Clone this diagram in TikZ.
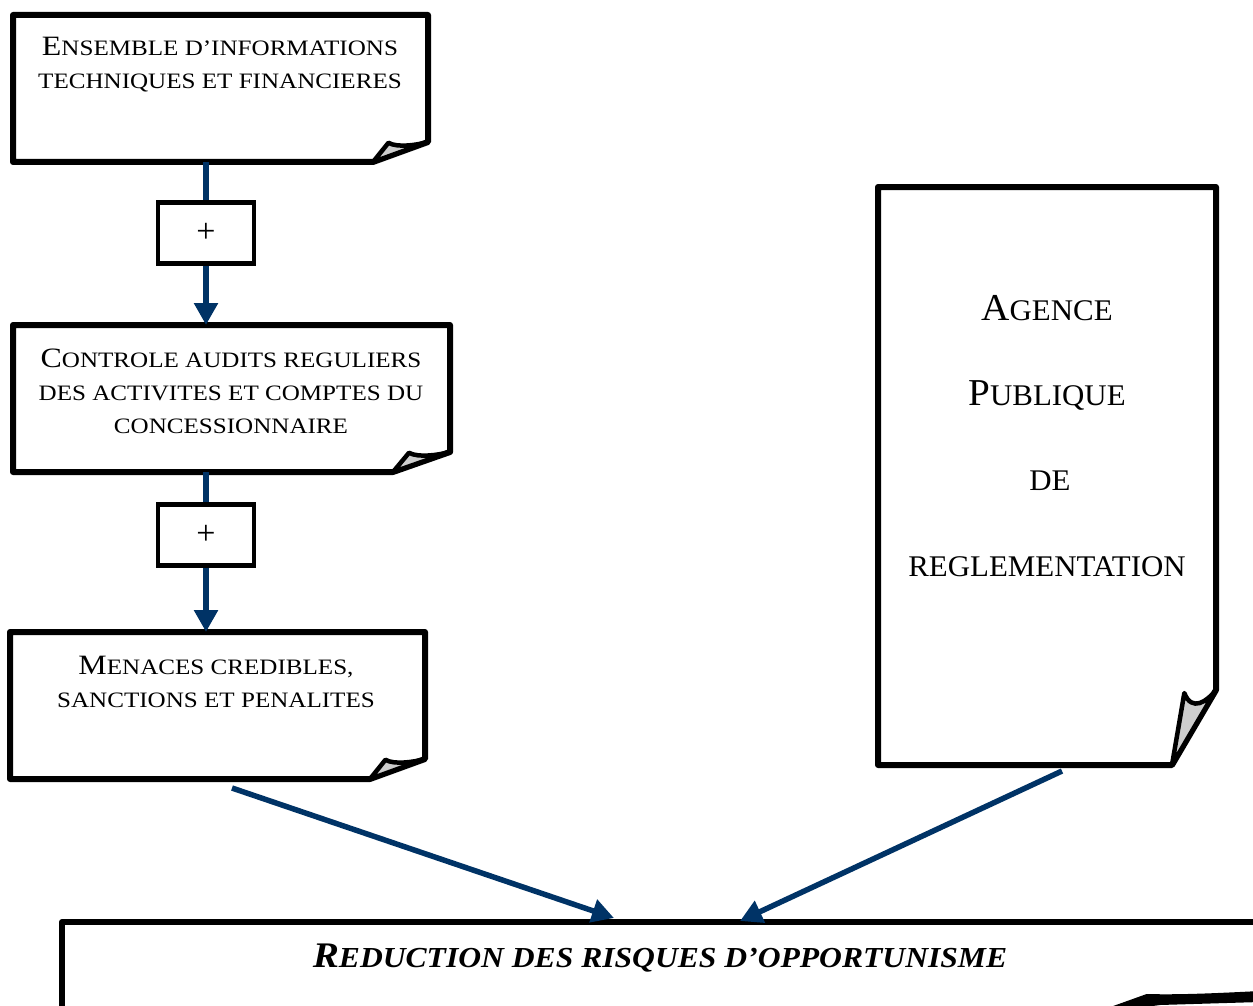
\documentclass[tikz,border=0pt]{standalone}
\usepackage{fontspec}
\setmainfont{Liberation Serif}
\newfontfamily\boxfont[FakeStretch=1.14]{Liberation Serif}
\newfontfamily\agfont[FakeStretch=1.03]{Liberation Serif}
\newfontfamily\redfont[FakeStretch=1.09]{Liberation Serif}
\usetikzlibrary{arrows.meta,calc}
\definecolor{navy}{RGB}{0,51,102}
\definecolor{curlgray}{RGB}{205,205,205}
\newcommand\scA[2]{{\fontsize{28}{30}\selectfont #1}{\fontsize{22}{24}\selectfont #2}}
\newcommand\scB[2]{{\fontsize{38}{44}\selectfont #1}{\fontsize{30}{34}\selectfont #2}}
\tikzset{
  docline/.style={line width=6pt, line join=round, draw=black, fill=white},
  curlline/.style={line width=4.5pt, line join=round, draw=black, fill=curlgray},
  frame/.style={draw=none, inner sep=0pt, outer sep=0pt},
  plusbox/.style={draw=black, line width=4.5pt, fill=white, minimum width=96pt, minimum height=61pt, inner sep=0pt, font=\fontsize{34}{36}\selectfont},
  txt/.style={align=center, inner sep=0pt, font=\boxfont\fontsize{22}{33}\selectfont},
  agtxt/.style={inner sep=0pt, font=\agfont},
  flow/.style={draw=navy, line width=5.5pt},
  flowarrow/.style={draw=navy, line width=5.5pt, -{Triangle[width=23pt,length=22pt]}},
}
% #1 node name, #2 fold width, #3 fold height
\newcommand\foldbox[3]{%
  \draw[docline] (#1.north west) -- (#1.north east) -- ($(#1.south east)+(0,-#3)$)
     -- ($(#1.south east)+(-#2,0)$) -- (#1.south west) -- cycle;
  \draw[curlline] ($(#1.south east)+(-#2,0)$) -- ($(#1.south east)+(-0.72*#2,-0.96*#3)$)
     .. controls ($(#1.south east)+(-0.55*#2,-0.70*#3)$) and ($(#1.south east)+(-0.2*#2,-0.85*#3)$)
     .. ($(#1.south east)+(0,-#3)$) -- cycle;
}
\begin{document}
\begin{tikzpicture}[x=1pt,y=-1pt]
\useasboundingbox (0,0) rectangle (1253,1006);
\clip (0,0) rectangle (1253,1006);

% frames of the boxes
\node[frame, minimum width=415pt, minimum height=147pt] (b1) at (220.5,88.5) {};
\node[frame, minimum width=437pt, minimum height=147pt] (b2) at (231.5,398.5) {};
\node[frame, minimum width=415pt, minimum height=147pt] (b3) at (217.5,705.5) {};
\node[frame, minimum width=338pt, minimum height=578pt] (b4) at (1047,476) {};
\node[frame, minimum width=1260pt, minimum height=110pt] (b5) at (692,977) {};

\foldbox{b1}{55}{20}
\foldbox{b2}{57}{20}
\foldbox{b3}{55}{20}
\foldbox{b4}{44}{75}

% bottom box (extends past the page)
\draw[docline] (b5.south west) -- (b5.north west) -- (b5.north east) -- (b5.south east) -- cycle;
\draw[line width=4pt, draw=black, fill=black, line join=round] (1108,1010) -- (1147,996)
   .. controls (1180,997) and (1220,995) .. (1260,993) -- (1260,1000) -- (1160,1003) -- cycle;

% texts
\node[txt] (t1) at (220,65) {\scA{E}{NSEMBLE D’INFORMATIONS}\\\scA{}{TECHNIQUES ET FINANCIERES}};
\node[txt] (t2) at (231,391) {\scA{C}{ONTROLE AUDITS REGULIERS}\\\scA{}{DES ACTIVITES ET COMPTES DU}\\\scA{}{CONCESSIONNAIRE}};
\node[txt] (t3) at (216,682) {\scA{M}{ENACES CREDIBLES,}\\\scA{}{SANCTIONS ET PENALITES}};
\node[agtxt, anchor=base] (t4a) at (1047,320) {\scB{A}{GENCE}};
\node[agtxt, anchor=base] (t4b) at (1047,405) {\scB{P}{UBLIQUE}};
\node[agtxt, anchor=base] (t4c) at (1050,490) {\scB{}{DE}};
\node[agtxt, anchor=base] (t4d) at (1047,576) {\scB{}{REGLEMENTATION}};
\node[inner sep=0pt, anchor=base] (t5) at (660,967) {\redfont\bfseries\itshape\fontsize{36}{40}\selectfont R\fontsize{29}{34}\selectfont EDUCTION DES RISQUES D’OPPORTUNISME};

% plus boxes
\node[plusbox] (p1) at (206,233) {+};
\node[plusbox] (p2) at (206,535) {+};

% connectors
\draw[flow] (b1.south -| p1) -- (p1.north);
\draw[flowarrow] (p1.south) -- (p1.south |- b2.north);
\draw[flow] (b2.south -| p2) -- (p2.north);
\draw[flowarrow] (p2.south) -- (p2.south |- b3.north);
\coordinate (s1) at (232,788);
\coordinate (s2) at (1062,771);
\draw[flowarrow] (s1) -- (614,918);
\draw[flowarrow] (s2) -- (740,921);
\end{tikzpicture}
\end{document}
